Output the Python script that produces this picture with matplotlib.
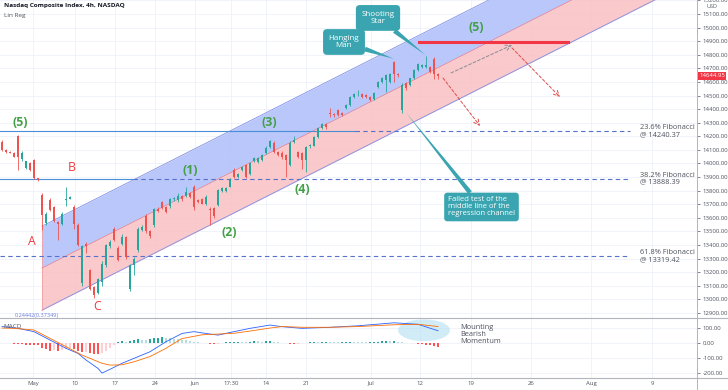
import numpy as np
import matplotlib
matplotlib.use('Agg')
import matplotlib.pyplot as plt
from matplotlib.lines import Line2D
from matplotlib.patches import Ellipse

plt.rcParams['font.family'] = ['Open Sans', 'DejaVu Sans']

# candles (4h bars, index 1..110)
opens = [14160, 14100, 14085, 14080, 14200, 14030, 13965, 14005, 14025, 13890,
         13770, 13560, 13730, 13680, 13570, 13555, 13730, 13740, 13680, 13550,
         13118, 13405, 13215, 13090, 13050, 13130, 13250, 13390, 13515, 13375,
         13410, 13460, 13080, 13250, 13360, 13510, 13615, 13500, 13545, 13665,
         13715, 13680, 13685, 13735, 13730, 13760, 13760, 13780, 13830, 13730,
         13740, 13705, 13665, 13670, 13695, 13795, 13797, 13830, 13952, 13898,
         13952, 13988, 13922, 14016, 14013, 14026, 14075, 14124, 14153, 14087,
         14080, 14062, 13989, 14160, 14087, 14075, 14025, 14125, 14130, 14197,
         14260, 14290, 14370, 14357, 14393, 14370, 14406, 14430, 14492, 14515,
         14509, 14504, 14492, 14472, 14565, 14602, 14614, 14602, 14749, 14660,
         14394, 14590, 14577, 14626, 14688, 14712, 14712, 14712, 14770, 14660]
highs = [14175, 14105, 14090, 14085, 14210, 14090, 14020, 14010, 14030, 13895,
         13780, 13640, 13745, 13690, 13580, 13640, 13825, 13760, 13695, 13560,
         13400, 13425, 13225, 13100, 13160, 13280, 13410, 13440, 13530, 13390,
         13480, 13470, 13260, 13310, 13530, 13545, 13625, 13510, 13675, 13680,
         13725, 13690, 13745, 13755, 13780, 13770, 13830, 13790, 13840, 13740,
         13745, 13765, 13680, 13680, 13815, 13825, 13830, 13890, 13965, 13930,
         13985, 13995, 14010, 14045, 14050, 14070, 14125, 14175, 14165, 14095,
         14090, 14070, 14165, 14200, 14095, 14085, 14130, 14145, 14205, 14270,
         14300, 14295, 14405, 14370, 14400, 14378, 14440, 14500, 14515, 14540,
         14515, 14510, 14500, 14525, 14610, 14635, 14660, 14665, 14755, 14668,
         14590, 14600, 14630, 14695, 14740, 14735, 14790, 14715, 14785, 14665]
lows = [14090, 14080, 14075, 14045, 13950, 14020, 13960, 13945, 13885, 13870,
        13510, 13550, 13650, 13570, 13440, 13545, 13690, 13735, 13520, 13390,
        13100, 13340, 13070, 13010, 13040, 13100, 13240, 13380, 13430, 13280,
        13400, 13300, 13060, 13180, 13350, 13500, 13490, 13455, 13535, 13640,
        13665, 13635, 13675, 13725, 13720, 13725, 13750, 13745, 13660, 13710,
        13700, 13695, 13545, 13600, 13690, 13790, 13790, 13825, 13890, 13890,
        13945, 13890, 13915, 14010, 14005, 14020, 14070, 14115, 14080, 14055,
        14030, 13903, 13980, 14150, 14040, 13957, 13940, 14115, 14125, 14190,
        14255, 14255, 14345, 14345, 14350, 14352, 14400, 14425, 14485, 14500,
        14485, 14485, 14460, 14465, 14555, 14595, 14528, 14595, 14600, 14640,
        14370, 14540, 14570, 14620, 14680, 14700, 14700, 14665, 14625, 14620]
closes = [14100, 14085, 14080, 14050, 14050, 14080, 14015, 13950, 13890, 13880,
          13620, 13630, 13660, 13580, 13555, 13630, 13740, 13750, 13555, 13400,
          13395, 13390, 13080, 13030, 13150, 13260, 13400, 13425, 13440, 13290,
          13460, 13310, 13250, 13300, 13520, 13530, 13500, 13465, 13665, 13650,
          13675, 13645, 13735, 13745, 13760, 13735, 13790, 13755, 13680, 13720,
          13705, 13755, 13660, 13610, 13805, 13818, 13822, 13880, 13898, 13922,
          13977, 13898, 14001, 14038, 14038, 14062, 14116, 14168, 14087, 14062,
          14050, 14025, 14148, 14175, 14050, 14025, 14124, 14135, 14197, 14260,
          14290, 14265, 14366, 14355, 14357, 14360, 14430, 14492, 14509, 14516,
          14492, 14490, 14467, 14516, 14602, 14627, 14651, 14658, 14658, 14650,
          14577, 14553, 14626, 14688, 14732, 14725, 14725, 14676, 14660, 14645]

# MACD pane
macd_x = [1, 5, 9, 13, 17, 20, 22, 25, 26, 28, 31, 34, 38, 42, 46, 49, 52, 55,
          59, 63, 68, 71, 76, 83, 90, 99, 105, 110]
macd_val = [110, 98, 76, 20, -35, -69, -113, -169, -200, -175, -135, -102, -58, 9,
            64, 76, 64, 53, 76, 98, 120, 109, 98, 105, 115, 135, 125, 82]
sig_x = [1, 4, 9, 13, 17, 21, 26, 28, 31, 34, 38, 42, 46, 51, 55, 59, 63, 68, 71,
         76, 83, 90, 99, 105, 110]
sig_val = [100, 98, 87, 31, -24, -80, -135, -147, -145, -125, -90, -35, 30, 55, 60,
           65, 80, 100, 110, 105, 105, 110, 122, 125, 110]
hist = [3, 2, 1, -4, -6, -8, -10, -12, -14, -15,
        -30, -38, -50, -45, -55, -48, -40, -35, -42, -55,
        -62, -58, -64, -70, -72, -65, -50, -35, -15, 5,
        12, 10, 14, 20, 24, 22, 20, 28, 34, 36,
        38, 35, 32, 28, 25, 22, 18, 14, 8, 4,
        2, 0, -4, -6, -3, 2, 4, 6, 8, 10,
        9, 8, 10, 12, 11, 9, 12, 14, 10, 6,
        3, -2, -4, -5, -3, -1, 2, 4, 6, 5,
        7, 8, 6, 5, 4, 6, 8, 10, 9, 7,
        5, 4, 6, 8, 10, 12, 13, 11, 13, 10,
        4, 2, 1, 0, -3, -6, -10, -15, -20, -26]

# regression channel
chan_start = 11
chan_mid0 = 13230
chan_slope = 14.9
chan_half = 309

fib_levels = [14240.37, 13888.39, 13319.42]
fib_names = ['23.6% Fibonacci', '38.2% Fibonacci', '61.8% Fibonacci']
resist = 14894
last_price = 14644.95

tick_pos = [8.75, 19.25, 29.25, 39.25, 49.25, 58.25, 67, 77, 93.25, 105.5, 118.25,
            133.25, 148.25, 163.5]
tick_lab = ['May', '10', '17', '24', 'Jun', '17:30', '14', '21', 'Jul', '12', '19',
            '26', 'Aug', '9']

W, H = 728, 390
fig = plt.figure(figsize=(W / 100, H / 100), dpi=100)
ax = fig.add_axes([0, 1 - 318 / H, 697 / W, 318 / H])
ax2 = fig.add_axes([0, 12 / H, 697 / W, 60 / H], sharex=ax)

grid_c = '#eef1f8'
txt_c = '#50535e'
up_c, dn_c = '#26a69a', '#ef5350'
teal = '#3aa5b0'

ax.set_xlim(0.5, 174.75)
ax.set_ylim(12863, 15203)
ax2.set_ylim(-233, 167)

for a in (ax, ax2):
    for s in ('top', 'left', 'bottom'):
        a.spines[s].set_visible(False)
    a.spines['right'].set_color('#b2b5be')
    a.spines['right'].set_linewidth(0.7)
    a.yaxis.tick_right()
    a.tick_params(axis='y', labelsize=4.3, colors=txt_c, length=2.5, width=0.5, pad=1.5)
    a.set_xticks(tick_pos)
    a.grid(True, color=grid_c, linewidth=0.6, zorder=0)
    a.set_axisbelow(True)

ax.set_yticks(np.arange(12900, 15201, 100))
ax.yaxis.set_major_formatter(matplotlib.ticker.FormatStrFormatter('%.2f'))
ax.tick_params(axis='x', labelbottom=False, length=0)
ax2.set_yticks([-200, -100, 0, 100])
ax2.yaxis.set_major_formatter(matplotlib.ticker.FormatStrFormatter('%.2f'))
ax2.set_xticklabels(tick_lab)
ax2.tick_params(axis='x', length=0, labelsize=4.3, colors=txt_c, pad=2)

# regression channel
cx = np.array([chan_start, 176])
mid = chan_mid0 + chan_slope * (cx - chan_start)
ax.fill_between(cx, mid, mid + chan_half, color='#b3c1fb', alpha=0.9, lw=0, zorder=1)
ax.fill_between(cx, mid - chan_half, mid, color='#f9c3c6', alpha=0.9, lw=0, zorder=1)
ax.plot(cx, mid + chan_half, color='#7f8fe6', lw=0.6, zorder=1.5)
ax.plot(cx, mid - chan_half, color='#7f8fe6', lw=0.6, zorder=1.5)
ax.plot(cx, mid, color='#f08a8f', lw=0.6, zorder=1.5)
ax.plot([chan_start, chan_start], [chan_mid0 - chan_half, chan_mid0 + chan_half],
        color='#f08a8f', lw=0.5, zorder=1.5)

# horizontal levels
solid_c = '#4a8fd6'
dash_c = '#5572cc'
ax.plot([0.5, 89.25], [fib_levels[0]] * 2, color=solid_c, lw=0.8, zorder=2)
ax.plot([0.5, 33.75], [fib_levels[1]] * 2, color=solid_c, lw=0.8, zorder=2)
for lv, start in zip(fib_levels, [89.25, 33.75, 0.5]):
    ax.plot([start, 158], [lv, lv], color=dash_c, lw=0.8, ls=(0, (4, 3)), zorder=2)
for lv, nm in zip(fib_levels, fib_names):
    ax.text(160.6, lv, '%s\n@ %.2f' % (nm, lv), fontsize=5.3, color=txt_c,
            ha='left', va='center', linespacing=1.0, zorder=4)

# candles
bars = np.arange(1, len(opens) + 1)
for i, o, h, l, c in zip(bars, opens, highs, lows, closes):
    col = up_c if c >= o else dn_c
    ax.vlines(i, l, h, color=col, lw=0.6, zorder=3)
    ax.bar(i, max(abs(c - o), 6), bottom=min(o, c), width=0.68, color=col,
           lw=0, zorder=3)

# resistance and projections
ax.plot([105.25, 142.5], [resist, resist], color='#f23645', lw=2.2, zorder=3)
ax.annotate('', xy=(128.5, 14872), xytext=(113.25, 14666),
            arrowprops=dict(arrowstyle='->', color='#8a8d96', lw=0.7, ls=(0, (3, 2)),
                            shrinkA=0, shrinkB=0), zorder=4)
ax.annotate('', xy=(120.5, 14276), xytext=(111.25, 14629),
            arrowprops=dict(arrowstyle='->', color='#e04b4b', lw=0.7, ls=(0, (3, 2)),
                            shrinkA=0, shrinkB=0), zorder=4)
ax.annotate('', xy=(140.5, 14489), xytext=(128.5, 14850),
            arrowprops=dict(arrowstyle='->', color='#e04b4b', lw=0.7, ls=(0, (3, 2)),
                            shrinkA=0, shrinkB=0), zorder=4)

# wave labels
green_c = '#43a047'
red_c = '#f0393c'
for t, x, y in [('(5)', 5.5, 14305), ('(1)', 48, 13952), ('(2)', 57.75, 13495),
                ('(3)', 67.75, 14305), ('(4)', 76, 13812), ('(5)', 119.5, 14997)]:
    ax.text(x, y, t, color=green_c, fontsize=8.8, fontweight='bold',
            ha='center', va='center', zorder=4)
for t, x, y in [('A', 8.5, 13429), ('B', 18.5, 13967), ('C', 24.75, 12950)]:
    ax.text(x, y, t, color=red_c, fontsize=8.8, ha='center', va='center', zorder=4)

# callouts
box = dict(boxstyle='round,pad=0.7,rounding_size=0.5', fc=teal, ec='none')
wedge = dict(arrowstyle='wedge,tail_width=0.6', fc=teal, ec='none',
             shrinkA=0, shrinkB=0)
ax.annotate('Hanging\nMan', xy=(99, 14770), xytext=(86.5, 14894), color='white',
            fontsize=5.8, ha='center', va='center', linespacing=1.1, bbox=box,
            arrowprops=wedge, zorder=5)
ax.annotate('Shooting\nStar', xy=(106.8, 14800), xytext=(95, 15071), color='white',
            fontsize=5.8, ha='center', va='center', linespacing=1.1, bbox=box,
            arrowprops=wedge, zorder=5)
ax.annotate('Failed test of the\nmiddle line of the\nregression channel',
            xy=(102, 14375), xytext=(112.5, 13680), color='white', fontsize=5.5,
            ha='left', va='center', linespacing=1.0,
            bbox=dict(boxstyle='round,pad=0.5,rounding_size=0.4', fc=teal, ec='none'),
            arrowprops=wedge, zorder=5)

# price label
ax.text(1.003, last_price, '%.2f' % last_price, transform=ax.get_yaxis_transform(),
        fontsize=4.3, color='white', ha='left', va='center', clip_on=False,
        bbox=dict(boxstyle='square,pad=0.25', fc='#f23645', ec='none'), zorder=6)

# MACD
for i, hv in enumerate(hist):
    prev = hist[i - 1] if i > 0 else hv
    if hv >= 0:
        col = '#26a69a' if hv >= prev else '#b2dfdb'
    else:
        col = '#ffcdd2' if hv > prev else '#ff5252'
    ax2.bar(i + 1, hv, width=0.7, color=col, lw=0, zorder=2)
ax2.plot(macd_x, macd_val, color='#2962ff', lw=0.6, zorder=3)
ax2.plot(sig_x, sig_val, color='#ff6d00', lw=0.6, zorder=3)
ax2.add_patch(Ellipse((106.5, 85), 13, 145, fc='#b3e0f2', ec='none', alpha=0.6,
                      zorder=1))
ax2.text(115.5, 55, 'Mounting\nBearish\nMomentum', fontsize=5.3, color=txt_c,
         ha='left', va='center', linespacing=1.0)

# header texts
fig.text(4 / W, 1 - 6 / H, 'Nasdaq Composite Index, 4h, NASDAQ', fontsize=4.6,
         color='#131722', fontweight='bold', va='center')
fig.text(4 / W, 1 - 16 / H, 'Lin Reg', fontsize=4.6, color=txt_c, va='center')
fig.text(712 / W, 1 - 6 / H, 'USD', fontsize=4.0, color=txt_c, ha='center', va='center')
fig.text(15 / W, 1 - 315 / H, '0.24442(0.37349)', fontsize=4.0, color='#6b7bd8',
         va='center')
fig.text(3 / W, 1 - 326 / H, 'MACD', fontsize=4.6, color=txt_c, va='center')

fig.add_artist(Line2D([0, 1], [1 - 318 / H, 1 - 318 / H], color='#b2b5be', lw=0.8))
fig.add_artist(Line2D([0, 1], [12 / H, 12 / H], color='#b2b5be', lw=0.8))
fig.add_artist(Line2D([697 / W, 697 / W], [0, 12 / H], color='#b2b5be', lw=0.7))

fig.savefig('out.png', dpi=100, facecolor='white')
